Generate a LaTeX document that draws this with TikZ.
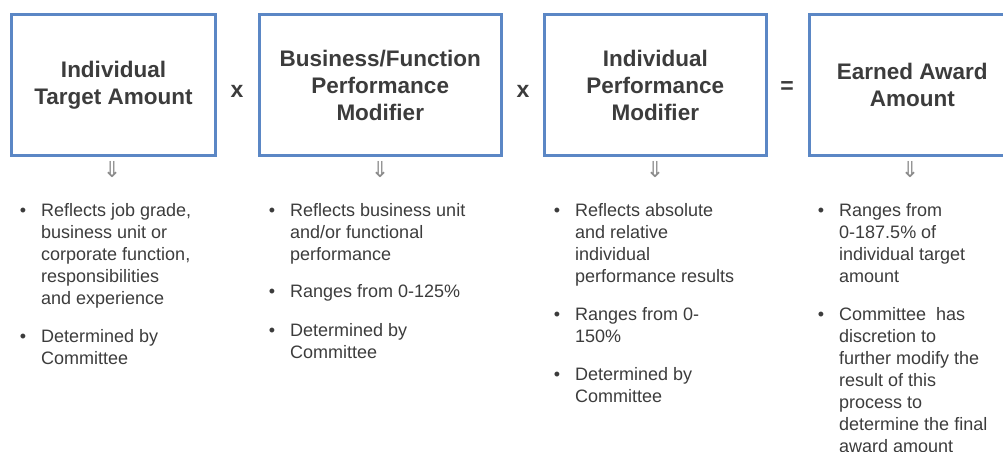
\documentclass[tikz,border=0pt]{standalone}
\usepackage{fontspec}
\setmainfont{Liberation Sans}
\newfontfamily\arrfont{DejaVu Sans}
\usetikzlibrary{positioning}
\definecolor{boxblue}{HTML}{5B87C5}
\definecolor{txtgray}{HTML}{3C3C3C}
\definecolor{arrgray}{HTML}{8A8A8A}
\tikzset{
  box/.style={draw=boxblue,line width=3pt,fill=white,align=center,
    text=txtgray,font=\bfseries\fontsize{22.5}{27}\selectfont,inner sep=0pt},
  op/.style={text=txtgray,font=\bfseries\fontsize{23}{23}\selectfont},
  darr/.style={text=arrgray,font=\arrfont\fontsize{22}{22}\selectfont},
  bullet/.style={anchor=base,text=txtgray,inner sep=0pt,
    font=\fontsize{18}{22}\selectfont},
  bultext/.style={anchor=base west,text=txtgray,inner sep=0pt,
    font=\fontsize{18}{22}\selectfont}
}
% bullet item: name, bullet x, text x, first baseline (px from top), text
\newcommand\bul[5]{%
  \node[bullet] (#1-b) at (#2,452-#4) {•};
  \node[bultext] (#1) at (#3,452-#4) {\parbox[t]{210pt}{\raggedright #5}};}
\begin{document}
\begin{tikzpicture}[x=1pt,y=1pt]
        \useasboundingbox (0,0) rectangle (1003,452);
        \clip (0,0) rectangle (1003,452);
        % the four boxes
        \node[box,minimum width=204pt,minimum height=141.5pt] (target) at (113.5,452-85.25)
        {Individual\\Target Amount};
        \node[box,minimum width=241.5pt,minimum height=141.5pt] (busmod) at (380.25,452-85.25)
        {Business/Function\\Performance\\Modifier};
        \node[box,minimum width=221.5pt,minimum height=141.5pt] (indmod) at (655.25,452-85.25)
        {Individual\\Performance\\Modifier};
        \node[box,minimum width=205.5pt,minimum height=141.5pt] (award) at (912.25,452-85.25)
        {Earned Award\\Amount};
        % operators
        \node[op] (times1) at (237,452-91) {x};
        \node[op] (times2) at (523,452-91) {x};
        \node[op] (equals) at (787,452-88) {=};
        % down arrows
        \foreach \b/\x in {target/112,busmod/380,indmod/655,award/910}
        \node[darr] (\b-arr) at (\x,452-170) {⇓};
        % bullet lists
        \bul{t1}{23}{41}{217}{Reflects job grade,\\business unit or\\corporate function,\\responsibilities\\and experience}
        \bul{t2}{23}{41}{343}{Determined by\\Committee}
        \bul{b1}{272}{290}{217}{Reflects business unit\\and/or functional\\performance}
        \bul{b2}{272}{290}{298}{Ranges from 0-125\%}
        \bul{b3}{272}{290}{337}{Determined by\\Committee}
        \bul{i1}{557}{575}{217}{Reflects absolute\\and relative\\individual\\performance results}
        \bul{i2}{557}{575}{321}{Ranges from 0-\\150\%}
        \bul{i3}{557}{575}{381}{Determined by\\Committee}
        \bul{a1}{821}{839}{217}{Ranges from\\0-187.5\% of\\individual target\\amount}
        \bul{a2}{821}{839}{321}{Committee\ \ has\\discretion to\\further modify the\\result of this\\process to\\determine the final\\award amount}
\end{tikzpicture}
\end{document}
